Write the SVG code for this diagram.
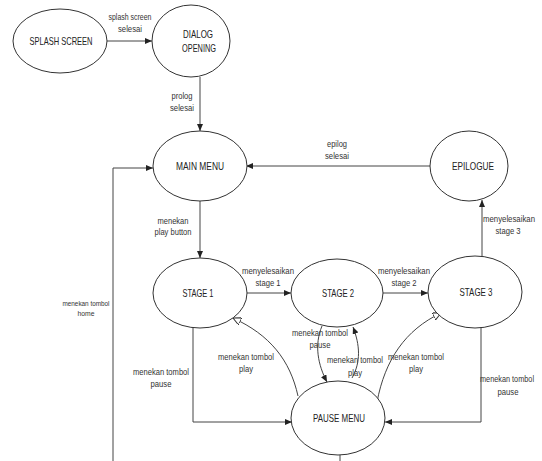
<svg xmlns="http://www.w3.org/2000/svg" width="542" height="461" viewBox="0 0 542 461">
<style>
.n ellipse{fill:#fff;stroke:#333;stroke-width:1}
.n text{font-family:"Liberation Sans",Arial,sans-serif;font-size:11.5px;fill:#222;text-anchor:middle}
.l{font-family:"Liberation Sans",Arial,sans-serif;font-size:9px;fill:#333;text-anchor:middle}
.h{font-size:8px}
.s{font-size:8.5px}
.c path,.c line,.c polyline{fill:none;stroke:#444;stroke-width:1}
</style>
<defs>
<marker id="a" markerWidth="8" markerHeight="6" refX="7" refY="3" orient="auto" markerUnits="userSpaceOnUse"><path d="M0,0 L7,3 L0,6 Z" fill="#222"/></marker>
<marker id="o" markerWidth="10" markerHeight="8" refX="8" refY="4" orient="auto" markerUnits="userSpaceOnUse"><path d="M0,0 L8,4 L0,8 Z" fill="#fff" stroke="#333" stroke-width="1"/></marker>
</defs>
<rect width="542" height="461" fill="#fff"/>
<g class="c">
<line x1="107" y1="41" x2="152" y2="41" marker-end="url(#a)"/>
<line x1="200" y1="77" x2="200" y2="131" marker-end="url(#a)"/>
<line x1="430" y1="166" x2="246" y2="166" marker-end="url(#a)"/>
<line x1="200" y1="201" x2="200" y2="258" marker-end="url(#a)"/>
<line x1="247" y1="293" x2="291" y2="293" marker-end="url(#a)"/>
<line x1="383" y1="293" x2="428" y2="293" marker-end="url(#a)"/>
<line x1="482" y1="257" x2="482" y2="200" marker-end="url(#a)"/>
<polyline points="193,327 193,422 292,422" marker-end="url(#a)"/>
<polyline points="481,327 481,422 385,422" marker-end="url(#a)"/>
<polyline points="113,461 113,168 153,168" marker-end="url(#a)"/>
<line x1="340" y1="455" x2="340" y2="461"/>
<path d="M298,396 C290,360 270,335 233,318" marker-end="url(#o)"/>
<path d="M322,326 C314,345 318,365 327,382" marker-end="url(#a)"/>
<path d="M352,378 C361,362 360,345 353,327" marker-end="url(#a)"/>
<path d="M377,402 C385,360 405,330 441,313" marker-end="url(#o)"/>
</g>
<g id="splash" class="n"><ellipse cx="60" cy="41" rx="47" ry="32"/><text x="61" y="45" textLength="63" lengthAdjust="spacingAndGlyphs">SPLASH SCREEN</text></g>
<g id="dialog" class="n"><ellipse cx="191" cy="41" rx="39" ry="36"/><text x="198" y="38" textLength="30" lengthAdjust="spacingAndGlyphs">DIALOG</text><text x="199" y="52" textLength="34" lengthAdjust="spacingAndGlyphs">OPENING</text></g>
<g id="mainmenu" class="n"><ellipse cx="200" cy="166" rx="47" ry="35"/><text x="200" y="170" textLength="48" lengthAdjust="spacingAndGlyphs">MAIN MENU</text></g>
<g id="epilogue" class="n"><ellipse cx="469" cy="166" rx="39" ry="35"/><text x="473" y="170" textLength="42" lengthAdjust="spacingAndGlyphs">EPILOGUE</text></g>
<g id="stage1" class="n"><ellipse cx="200" cy="293" rx="47" ry="35"/><text x="198" y="297" textLength="31" lengthAdjust="spacingAndGlyphs">STAGE 1</text></g>
<g id="stage2" class="n"><ellipse cx="337" cy="293" rx="46" ry="34"/><text x="338" y="297" textLength="32" lengthAdjust="spacingAndGlyphs">STAGE 2</text></g>
<g id="stage3" class="n"><ellipse cx="475" cy="292" rx="47" ry="36"/><text x="476" y="296" textLength="33" lengthAdjust="spacingAndGlyphs">STAGE 3</text></g>
<g id="pausemenu" class="n"><ellipse cx="338" cy="418" rx="47" ry="37"/><text x="339" y="422" textLength="52" lengthAdjust="spacingAndGlyphs">PAUSE MENU</text></g>
<g id="labels">
<text class="l" x="130" y="20" textLength="43" lengthAdjust="spacingAndGlyphs">splash screen</text><text class="l" x="130" y="32" textLength="24" lengthAdjust="spacingAndGlyphs">selesai</text>
<text class="l" x="182" y="99" textLength="21" lengthAdjust="spacingAndGlyphs">prolog</text><text class="l" x="182" y="111" textLength="24" lengthAdjust="spacingAndGlyphs">selesai</text>
<text class="l" x="337" y="147" textLength="20" lengthAdjust="spacingAndGlyphs">epilog</text><text class="l" x="337" y="159" textLength="24" lengthAdjust="spacingAndGlyphs">selesai</text>
<text class="l" x="173" y="224" textLength="31" lengthAdjust="spacingAndGlyphs">menekan</text><text class="l" x="173" y="235" textLength="37" lengthAdjust="spacingAndGlyphs">play button</text>
<text class="l" x="268" y="274" textLength="52" lengthAdjust="spacingAndGlyphs">menyelesaikan</text><text class="l" x="268" y="286" textLength="25" lengthAdjust="spacingAndGlyphs">stage 1</text>
<text class="l" x="404" y="274" textLength="52" lengthAdjust="spacingAndGlyphs">menyelesaikan</text><text class="l" x="404" y="286" textLength="25" lengthAdjust="spacingAndGlyphs">stage 2</text>
<text class="l" x="509" y="222" textLength="52" lengthAdjust="spacingAndGlyphs">menyelesaikan</text><text class="l" x="508" y="234" textLength="25" lengthAdjust="spacingAndGlyphs">stage 3</text>
<text class="l h" x="86" y="306" textLength="47" lengthAdjust="spacingAndGlyphs">menekan tombol</text><text class="l h" x="86" y="316" textLength="17" lengthAdjust="spacingAndGlyphs">home</text>
<text class="l" x="161" y="375" textLength="56" lengthAdjust="spacingAndGlyphs">menekan tombol</text><text class="l" x="161" y="387" textLength="21" lengthAdjust="spacingAndGlyphs">pause</text>
<text class="l" x="246" y="360" textLength="56" lengthAdjust="spacingAndGlyphs">menekan tombol</text><text class="l" x="246" y="372" textLength="14" lengthAdjust="spacingAndGlyphs">play</text>
<text class="l" x="320" y="336" textLength="56" lengthAdjust="spacingAndGlyphs">menekan tombol</text><text class="l" x="320" y="348" textLength="21" lengthAdjust="spacingAndGlyphs">pause</text>
<text class="l" x="355" y="363" textLength="56" lengthAdjust="spacingAndGlyphs">menekan tombol</text><text class="l" x="355" y="376" textLength="14" lengthAdjust="spacingAndGlyphs">play</text>
<text class="l" x="416" y="360" textLength="56" lengthAdjust="spacingAndGlyphs">menekan tombol</text><text class="l" x="416" y="372" textLength="14" lengthAdjust="spacingAndGlyphs">play</text>
<text class="l s" x="507" y="382" textLength="54" lengthAdjust="spacingAndGlyphs">menekan tombol</text><text class="l" x="508" y="395" textLength="21" lengthAdjust="spacingAndGlyphs">pause</text>
</g>
</svg>
